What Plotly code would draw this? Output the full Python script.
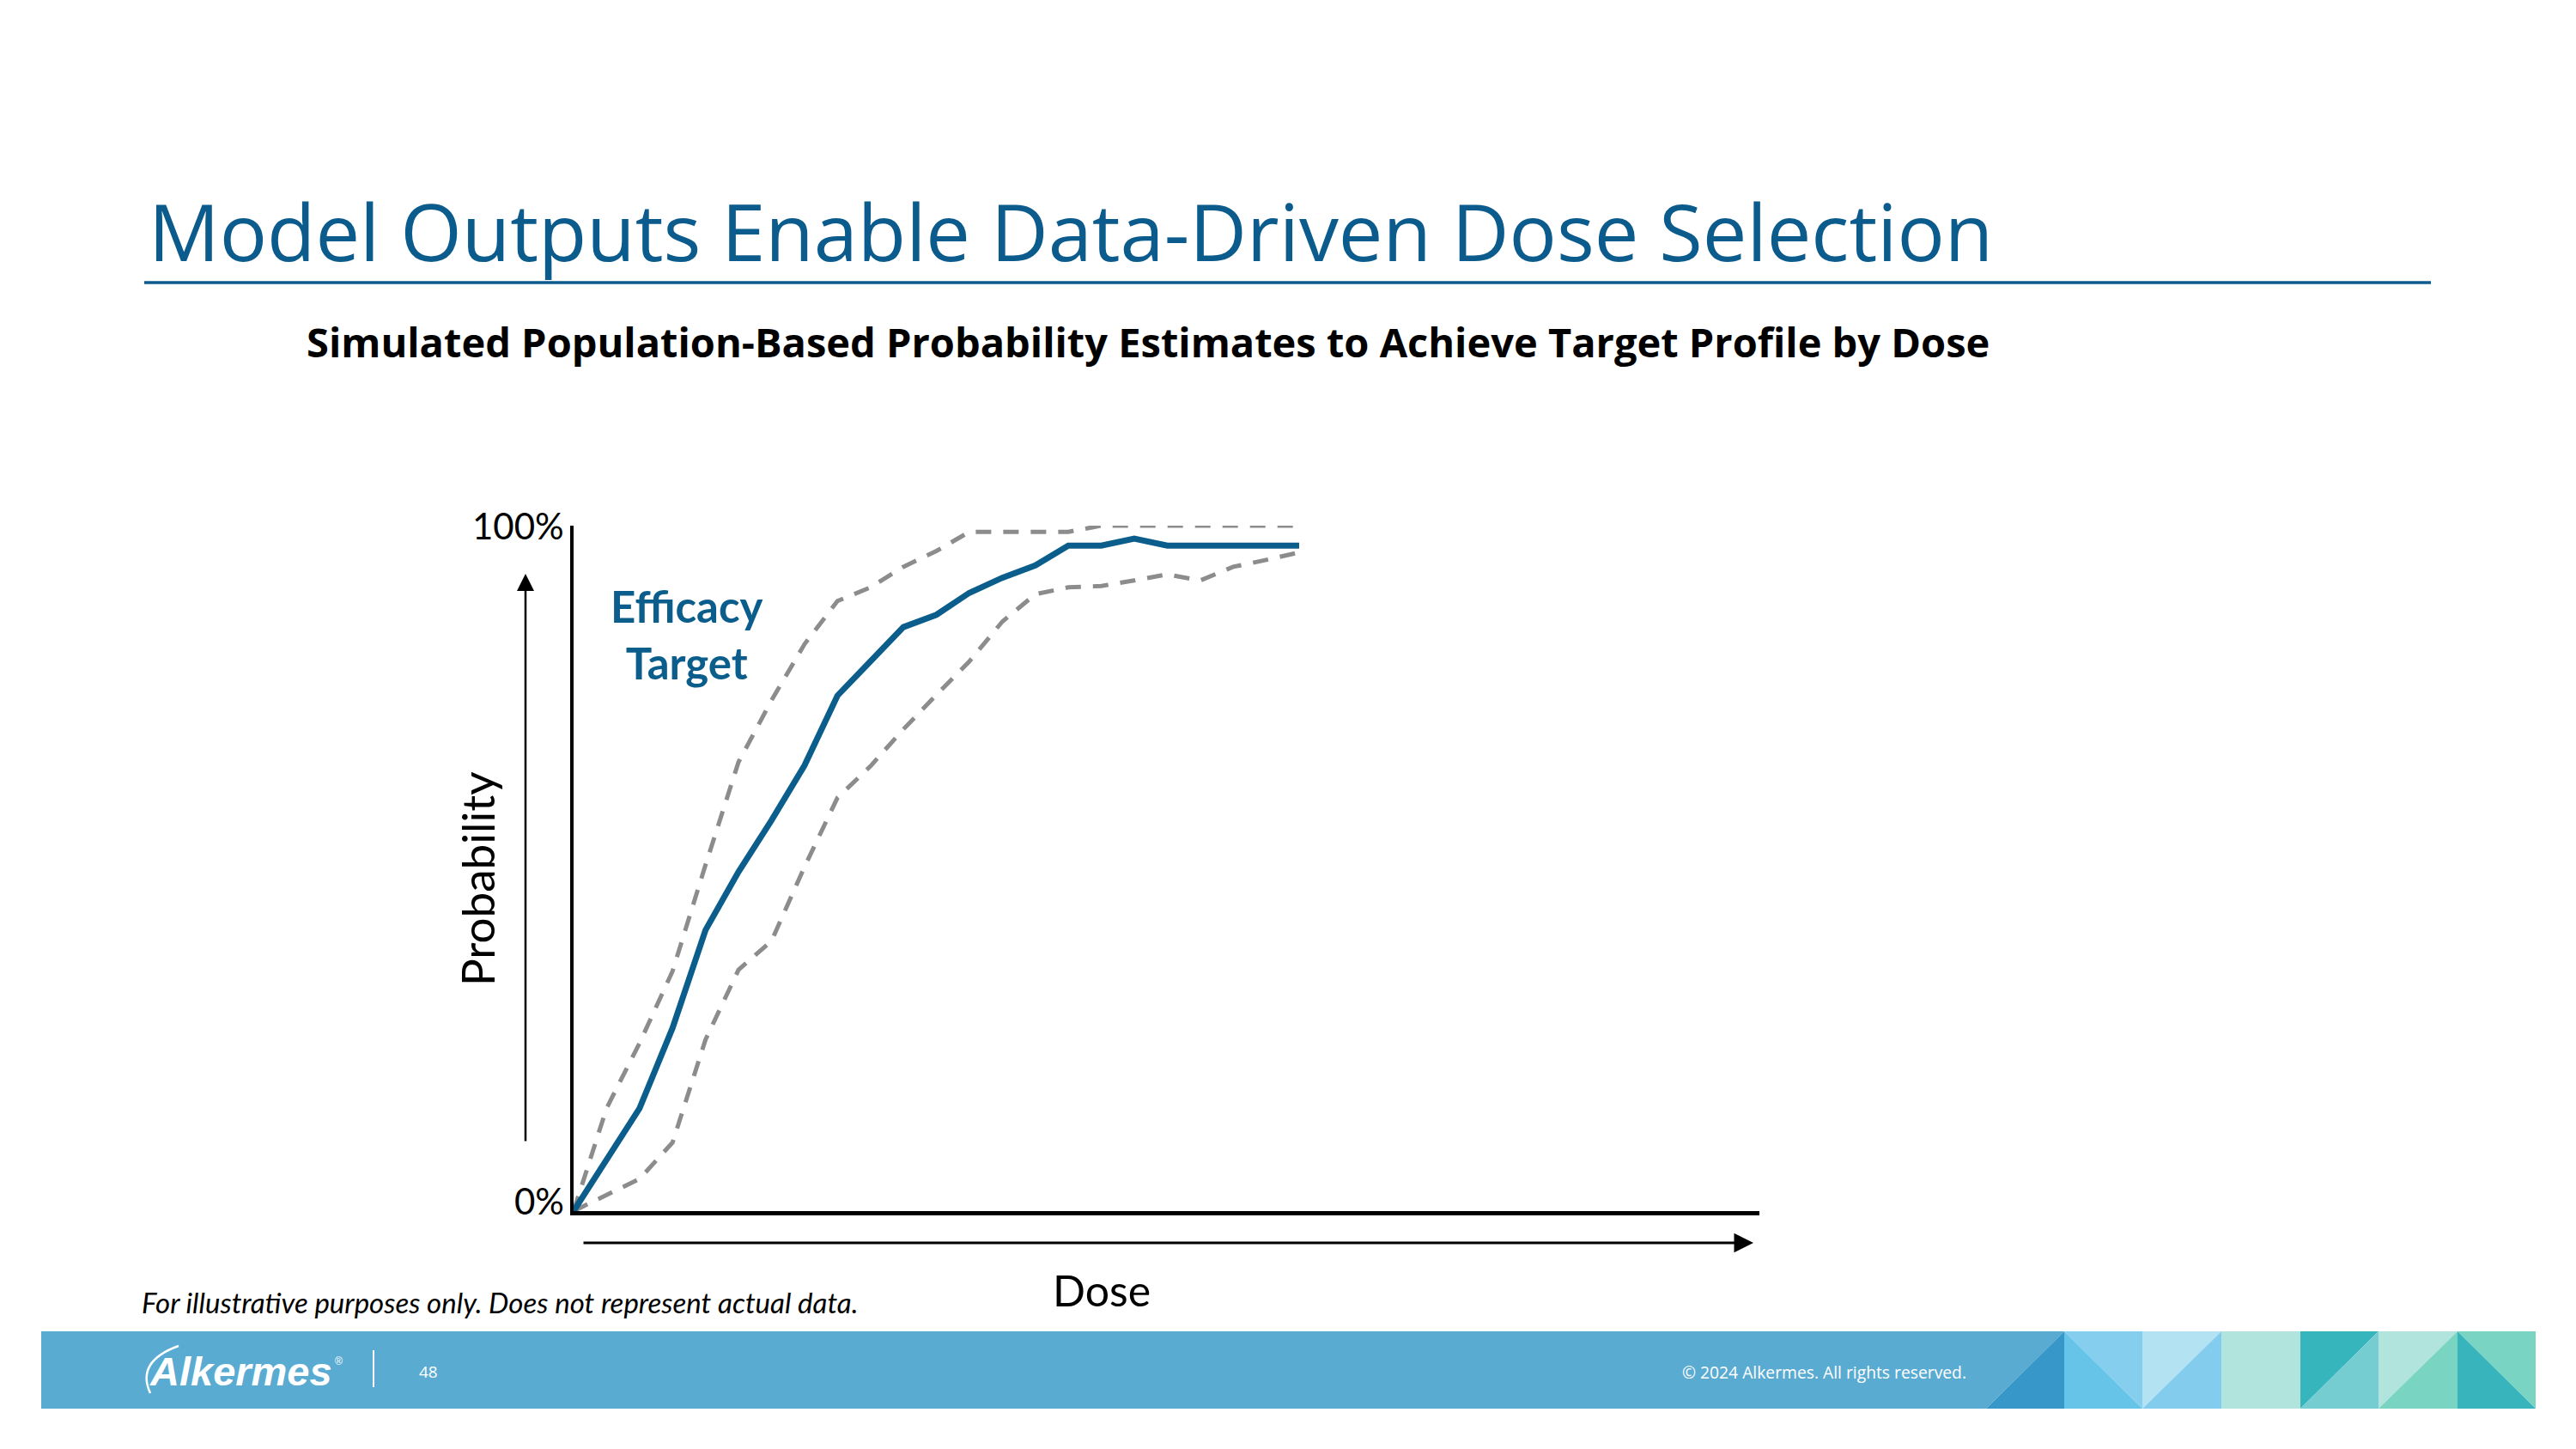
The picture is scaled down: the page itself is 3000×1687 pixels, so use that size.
import plotly.graph_objects as go

# ---------------- data ----------------
dose_main = [0, 2, 3, 4, 5, 6, 7, 8, 9, 10, 11, 12, 13, 14, 15, 16, 17, 18, 19, 20, 21, 22]
prob_main = [0, 15.0, 26.7, 41.0, 49.5, 57.0, 65.0, 75.2, 80.2, 85.2, 87.0, 90.2, 92.4, 94.2,
             97.1, 97.1, 98.1, 97.1, 97.1, 97.1, 97.1, 97.1]

dose_upper = [0, 1, 2, 3, 4, 5, 6, 7, 8, 9, 10, 11, 12, 13, 14, 15, 16, 17, 18, 19, 20, 21, 22]
prob_upper = [0, 15.0, 24.5, 35.0, 50.5, 65.5, 74.5, 82.7, 89.0, 91.0, 94.0, 96.3, 99.1, 99.1,
              99.1, 99.1, 100, 100, 100, 100, 100, 100, 100]

dose_lower = [0, 2, 3, 4, 5, 6, 7, 8, 9, 10, 11, 12, 13, 14, 15, 16, 17, 18, 19, 20, 21, 22]
prob_lower = [0, 4.7, 10.0, 25.0, 35.2, 39.4, 50.2, 60.3, 64.9, 70.3, 75.3, 80.2, 86.0, 90.0,
              91.0, 91.2, 92.0, 92.9, 92.0, 94.0, 95.0, 96.1]

y_tick_vals = [0, 100]
y_tick_text = ["0%", "100%"]

# ---------------- page geometry ----------------
W, H = 3000, 1687
BLUE = "#0B5E8C"
TITLE_BLUE = "#0B5B8D"
GREY = "#8C8C8C"


def px(x):
    return x / W


def py(y):
    return 1 - y / H


ax_left, ax_right = 668, 2049
ax_top, ax_bottom = 612, 1410
x_max = 22 * (ax_right - ax_left) / (1513 - ax_left)

fig = go.Figure()
fig.add_trace(go.Scatter(x=dose_upper, y=prob_upper, mode="lines",
                         line=dict(color=GREY, width=5, dash="18px,14px"),
                         hoverinfo="skip", showlegend=False))
fig.add_trace(go.Scatter(x=dose_lower, y=prob_lower, mode="lines",
                         line=dict(color=GREY, width=5, dash="18px,14px"),
                         hoverinfo="skip", showlegend=False))
fig.add_trace(go.Scatter(x=dose_main, y=prob_main, mode="lines",
                         line=dict(color=BLUE, width=7),
                         hoverinfo="skip", showlegend=False))

annotations = []


def text(t, x, y, size, color="black", family="Lato", xanchor="center", angle=0, yanchor="middle"):
    annotations.append(dict(text=t, x=px(x), y=py(y), xref="paper", yref="paper",
                            xanchor=xanchor, yanchor=yanchor, showarrow=False, textangle=angle,
                            font=dict(family=family, size=size, color=color)))


# titles
text("Model Outputs Enable Data-Driven Dose Selection", 171, 268, 92, TITLE_BLUE,
     family="Open Sans", xanchor="left")
text("<b>Simulated Population-Based Probability Estimates to Achieve Target Profile by Dose</b>",
     1337, 398, 47, "black", family="Open Sans")

# chart labels
text("<b>Efficacy<br>Target</b>", 800, 738, 51, BLUE)
text("Probability", 556, 1023, 53, "black", angle=-90)
text("Dose", 1283, 1502, 50, "black")
text("<i>For illustrative purposes only. Does not represent actual data.</i>", 163, 1516, 33,
     "black", xanchor="left")

# y tick labels through axis coordinates
for v, t, sh in zip(y_tick_vals, y_tick_text, [12, 0]):
    annotations.append(dict(text=t, x=0, y=v, xref="x", yref="y", xanchor="right",
                            yanchor="middle", xshift=-9, yshift=sh, showarrow=False,
                            font=dict(family="Lato", size=42, color="black")))

# arrows
annotations.append(dict(x=px(612), y=py(668), xref="paper", yref="paper", ax=0, ay=1330 - 668,
                        axref="pixel", ayref="pixel", showarrow=True, arrowhead=2, arrowsize=1.6,
                        arrowwidth=2.5, arrowcolor="black", text=""))
annotations.append(dict(x=px(2042), y=py(1447), xref="paper", yref="paper", ax=-(2042 - 678), ay=0,
                        axref="pixel", ayref="pixel", showarrow=True, arrowhead=2, arrowsize=1.5,
                        arrowwidth=3, arrowcolor="black", text=""))

# footer text
text("<b><i>Alkermes</i></b>", 172, 1596, 47, "white", family="Liberation Sans", xanchor="left")
text("®", 388, 1585, 12, "white", family="Liberation Sans", xanchor="left")
text("48", 499, 1597, 19, "white", family="Open Sans")
text("© 2024 Alkermes. All rights reserved.", 1957, 1597, 19.3, "white", family="Open Sans",
     xanchor="left")

shapes = []
# title underline
shapes.append(dict(type="line", xref="paper", yref="paper", x0=px(168), x1=px(2831), y0=py(329),
                   y1=py(329), line=dict(color=TITLE_BLUE, width=3.5)))
# footer bar
bar_t, bar_b = 1550, 1640
shapes.append(dict(type="rect", xref="paper", yref="paper", x0=px(48), x1=px(2313), y0=py(bar_b),
                   y1=py(bar_t), fillcolor="#5AABD2", line=dict(width=0), layer="below"))


def poly(pts, color):
    path = "M " + " L ".join(f"{px(x):.6f},{py(y):.6f}" for x, y in pts) + " Z"
    shapes.append(dict(type="path", xref="paper", yref="paper", path=path, fillcolor=color,
                       line=dict(width=0), layer="below"))


edges = [2313, 2404, 2495, 2587, 2679, 2770, 2862, 2953]
T, B = bar_t, bar_b
# panel 1
e0, e1 = edges[0], edges[1]
poly([(e0, T), (e1, T), (e0, B)], "#5AABD2")
poly([(e0, B), (e1, T), (e1, B)], "#3797C9")
# panel 2
e0, e1 = edges[1], edges[2]
poly([(e0, T), (e1, T), (e1, B)], "#86CEEE")
poly([(e0, T), (e0, B), (e1, B)], "#66C4E8")
# panel 3
e0, e1 = edges[2], edges[3]
poly([(e0, T), (e1, T), (e0, B)], "#B3E2F3")
poly([(e0, B), (e1, T), (e1, B)], "#84CCED")
# panel 4
e0, e1 = edges[3], edges[4]
poly([(e0, T), (e1, T), (e1, B), (e0, B)], "#B1E4DD")
# panel 5
e0, e1 = edges[4], edges[5]
poly([(e0, T), (e1, T), (e0, B)], "#37B5BC")
poly([(e0, B), (e1, T), (e1, B)], "#75CDD2")
# panel 6
e0, e1 = edges[5], edges[6]
poly([(e0, T), (e1, T), (e0, B)], "#B1E4DD")
poly([(e0, B), (e1, T), (e1, B)], "#79D4C2")
# panel 7
e0, e1 = edges[6], edges[7]
poly([(e0, T), (e1, T), (e1, B)], "#7AD4C3")
poly([(e0, T), (e0, B), (e1, B)], "#37B4BC")

# footer separator and logo swoosh
shapes.append(dict(type="line", xref="paper", yref="paper", x0=px(435), x1=px(435), y0=py(1572),
                   y1=py(1615), line=dict(color="white", width=2)))
shapes.append(dict(type="path", xref="paper", yref="paper",
                   path=f"M {px(175):.6f},{py(1622):.6f} Q {px(158):.6f},{py(1585):.6f} {px(208):.6f},{py(1567):.6f}",
                   line=dict(color="white", width=2.5)))

fig.update_layout(
    width=W, height=H,
    margin=dict(l=0, r=0, t=0, b=0),
    paper_bgcolor="white", plot_bgcolor="rgba(0,0,0,0)",
    xaxis=dict(domain=[px(ax_left), px(ax_right)], range=[0, x_max], showline=True,
               linecolor="black", linewidth=5, showgrid=False, zeroline=False,
               showticklabels=False, ticks="", fixedrange=True),
    yaxis=dict(domain=[py(ax_bottom), py(ax_top)], range=[0, 100], showline=True,
               linecolor="black", linewidth=4, showgrid=False, zeroline=False,
               showticklabels=False, ticks="", tickvals=y_tick_vals, fixedrange=True),
    annotations=annotations,
    shapes=shapes,
    showlegend=False,
)

fig.write_html("out.html", config={"displayModeBar": False},
               post_script="document.body.style.margin='0';document.body.style.overflow='hidden';")
